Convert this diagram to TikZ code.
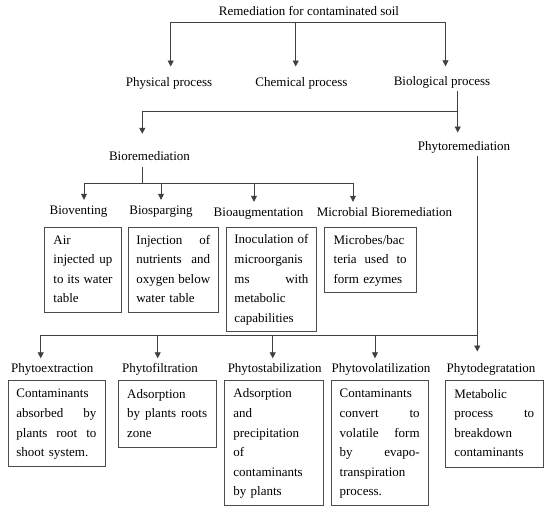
\documentclass[tikz,border=0pt]{standalone}
\usepackage{fontspec}
\setmainfont{Liberation Serif}
\usetikzlibrary{arrows.meta}
\newcommand\jline[1]{\leavevmode\hbox to\hsize{\spaceskip=.25em plus 1fil\relax #1}}
\begin{document}
\begin{tikzpicture}[x=1pt,y=-1pt,
  lab/.style={inner sep=0pt, text height=9pt, text depth=3pt, anchor=base, font=\fontsize{13}{16}\selectfont, text=black},
  box/.style={draw=black!70, line width=0.8pt, anchor=north west, inner sep=0pt, align=left, font=\fontsize{13}{19.6}\selectfont, text=black},
  ln/.style={draw=black!75, line width=0.8pt, line cap=rect},
  arr/.style={ln, -{Triangle[length=6pt,width=6pt]}}]
\useasboundingbox (0,0) rectangle (550,512);

% labels
\node[lab] (t) at (309,15) {Remediation for contaminated soil};
\node[lab] (phys) at (169,86) {Physical process};
\node[lab] (chem) at (301.5,86) {Chemical process};
\node[lab] (biol) at (442,85) {Biological process};
\node[lab] (biorem) at (149.5,160) {Bioremediation};
\node[lab] (phytorem) at (464,150.7) {Phytoremediation};
\node[lab] (vent) at (78.5,214.5) {Bioventing};
\node[lab] (sparg) at (161,214.5) {Biosparging};
\node[lab] (aug) at (258.5,216.5) {Bioaugmentation};
\node[lab] (micro) at (384.5,216.5) {Microbial Bioremediation};
\node[lab] (pex) at (52.3,372) {Phytoextraction};
\node[lab] (pfil) at (160,372) {Phytofiltration};
\node[lab] (pstab) at (274.7,372) {Phytostabilization};
\node[lab] (pvol) at (381,372) {Phytovolatilization};
\node[lab] (pdeg) at (491,372) {Phytodegratation};

% boxes
\node[box, minimum width=77pt, minimum height=85.2pt, text width=59pt] (a1) at (44,226.5)
  {\strut Air\\ \jline{injected up}\\ \jline{to its water}\\ table\strut};
\node[box, minimum width=90.3pt, minimum height=85.2pt, text width=74pt] (a2) at (127.7,226.5)
  {\strut\jline{Injection of}\\ \jline{nutrients and}\\ \jline{oxygen below}\\ water table\strut};
\node[box, minimum width=90pt, minimum height=104.5pt, text width=74pt] (a3) at (226,226.5)
  {\strut\jline{Inoculation of}\\ microorganis\\ \jline{ms with}\\ metabolic\\ capabilities\strut};
\node[box, minimum width=91.5pt, minimum height=65.8pt, text width=73pt] (a4) at (324,226.5)
  {\strut Microbes/bac\\ \jline{teria used to}\\ form ezymes\strut};

\node[box, minimum width=97pt, minimum height=86pt, text width=80pt] (b1) at (7.5,380)
  {\strut Contaminants\\ \jline{absorbed by}\\ \jline{plants root to}\\ shoot system.\strut};
\node[box, minimum width=97.5pt, minimum height=67.3pt, text width=80pt] (b2) at (118,380)
  {\strut Adsorption\\ \jline{by plants roots}\\ zone\strut};
\node[box, minimum width=99pt, minimum height=125pt, text width=80pt] (b3) at (223.5,380)
  {\strut Adsorption\\ and\\ precipitation\\ of\\ contaminants\\ by plants\strut};
\node[box, minimum width=97.5pt, minimum height=125pt, text width=80pt] (b4) at (330.5,380)
  {\strut Contaminants\\ \jline{convert to}\\ \jline{volatile form}\\ \jline{by evapo-}\\ transpiration\\ process.\strut};
\node[box, minimum width=97.7pt, minimum height=86.5pt, text width=80pt] (b5) at (445,380)
  {\strut Metabolic\\ \jline{process to}\\ breakdown\\ contaminants\strut};

% level 1 bus
\coordinate (l1L) at (170.7,22.7);
\coordinate (l1M) at (295.7,22.7);
\coordinate (l1R) at (445.5,22.7);
\draw[arr, shorten >=10.3pt] (l1R) -- (l1L) -- (l1L |- phys.north);
\draw[arr, shorten >=10.3pt] (l1M) -- (l1M |- chem.north);
\draw[arr, shorten >=9.5pt] (l1R) -- (l1R |- biol.north);

% level 2
\coordinate (l2R) at (457.7,111.7);
\coordinate (l2L) at (142.3,111.7);
\draw[arr, shorten <=3pt, shorten >=17pt] (l2R |- biol.south) -- (l2R) -- (l2L) -- (l2L |- biorem.north);
\draw[arr, shorten >=9pt] (l2R) -- (l2R |- phytorem.north);

% level 3 (bioremediation)
\coordinate (l3m) at (142.3,183.3);
\coordinate (l3a) at (84,183.3);
\coordinate (l3b) at (161,183.3);
\coordinate (l3c) at (254,183.3);
\coordinate (l3d) at (353,183.3);
\draw[ln, shorten <=4pt] (l3m |- biorem.south) -- (l3m);
\draw[arr, shorten >=5.5pt] (l3d) -- (l3a) -- (l3a |- vent.north);
\draw[arr, shorten >=5.5pt] (l3b) -- (l3b |- sparg.north);
\draw[arr, shorten >=5.5pt] (l3c) -- (l3c |- aug.north);
\draw[arr, shorten >=5.5pt] (l3d) -- (l3d |- micro.north);

% level 4 (phytoremediation)
\coordinate (l4a) at (40.7,335.5);
\coordinate (l4b) at (157.7,335.5);
\coordinate (l4c) at (272.7,335.5);
\coordinate (l4d) at (375,335.5);
\coordinate (l4e) at (477.3,335.5);
\draw[arr, shorten <=2.3pt, shorten >=11.3pt] (l4e |- phytorem.south) -- (l4e |- pdeg.north);
\draw[arr, shorten >=4.5pt] (l4e) -- (l4a) -- (l4a |- pex.north);
\draw[arr, shorten >=4.5pt] (l4b) -- (l4b |- pfil.north);
\draw[arr, shorten >=4.5pt] (l4c) -- (l4c |- pstab.north);
\draw[arr, shorten >=4.5pt] (l4d) -- (l4d |- pvol.north);
\end{tikzpicture}
\end{document}
